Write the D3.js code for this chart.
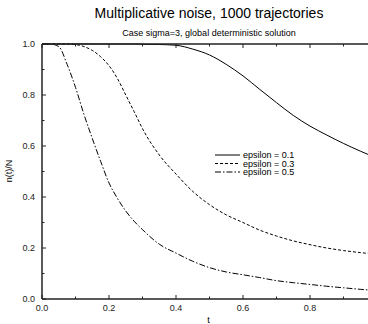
<!DOCTYPE html>
<html><head><meta charset="utf-8">
<script src="https://cdn.jsdelivr.net/npm/d3@7"></script>
<style>body{margin:0;background:#fff;overflow:hidden}svg{display:block;font-family:"Liberation Sans",Arial,sans-serif}</style>
</head><body>
<script>
const tVals = [0,0.025,0.05,0.075,0.1,0.125,0.15,0.175,0.2,0.225,0.25,0.275,0.3,0.35,0.4,0.45,0.5,0.55,0.6,0.65,0.7,0.75,0.8,0.85,0.9,0.95,1.0];
const eps01 = [1,1,1,1,1,1,1,1,1,1,1,1,0.999,0.998,0.995,0.98,0.957,0.92,0.875,0.822,0.77,0.72,0.678,0.643,0.61,0.58,0.552];
const eps03 = [1,1,1,1,0.998,0.99,0.975,0.95,0.915,0.865,0.8,0.735,0.668,0.565,0.49,0.422,0.37,0.33,0.3,0.27,0.247,0.228,0.213,0.2,0.19,0.182,0.175];
const eps05 = [1,1,0.99,0.92,0.83,0.725,0.63,0.54,0.455,0.395,0.345,0.305,0.272,0.215,0.18,0.148,0.123,0.106,0.095,0.084,0.072,0.064,0.057,0.05,0.044,0.038,0.033];
const seriesNames = ["epsilon = 0.1","epsilon = 0.3","epsilon = 0.5"];
const xTicks = [0,0.2,0.4,0.6,0.8];
const yTicks = [0,0.2,0.4,0.6,0.8,1.0];

const W=368,H=324;
const svg=d3.select("body").append("svg").attr("width",W).attr("height",H);
const x=d3.scaleLinear().domain([0,1]).range([42,377]);
const y=d3.scaleLinear().domain([0,1]).range([299,44]);
const minor=d3.range(0,1.0001,0.1);

svg.append("text").attr("x",209).attr("y",18).attr("text-anchor","middle").attr("font-size",14).text("Multiplicative noise, 1000 trajectories");
svg.append("text").attr("x",209).attr("y",36).attr("text-anchor","middle").attr("font-size",9).text("Case sigma=3, global deterministic solution");

const dashes=[null,"3,2","6,2,1.5,2"];
const data=[eps01,eps03,eps05];
const line=d3.line().x((d,i)=>x(tVals[i])).y(d=>y(d)).curve(d3.curveMonotoneX);
const g=svg.append("g");
data.forEach((s,k)=>{
  g.append("path").datum(s).attr("d",line).attr("fill","none").attr("stroke","#000").attr("stroke-width",1)
   .attr("stroke-dasharray",dashes[k]);
});

// axes
const ax=svg.append("g").attr("stroke","#222").attr("stroke-width",1.5);
ax.append("line").attr("x1",x(0)).attr("x2",x(1)).attr("y1",y(0)).attr("y2",y(0));
ax.append("line").attr("x1",x(0)).attr("x2",x(1)).attr("y1",y(1)).attr("y2",y(1));
ax.append("line").attr("x1",x(0)).attr("x2",x(0)).attr("y1",y(0)).attr("y2",y(1));
const tk=svg.append("g").attr("stroke","#222").attr("stroke-width",1);
minor.forEach((v,i)=>{
  const len = i%2===0?4:2.5;
  tk.append("line").attr("x1",x(v)).attr("x2",x(v)).attr("y1",y(0)).attr("y2",y(0)-len);
  tk.append("line").attr("x1",x(v)).attr("x2",x(v)).attr("y1",y(1)).attr("y2",y(1)+len);
  tk.append("line").attr("x1",x(0)).attr("x2",x(0)+len).attr("y1",y(v)).attr("y2",y(v));
});
const fmt=d3.format(".1f");
svg.append("g").selectAll("text").data(xTicks).join("text")
  .attr("x",d=>x(d)).attr("y",311).attr("text-anchor","middle").attr("font-size",9).attr("fill","#222").text(fmt);
svg.append("g").selectAll("text").data(yTicks).join("text")
  .attr("x",35).attr("y",d=>y(d)+3).attr("text-anchor","end").attr("font-size",9).attr("fill","#222").text(fmt);
svg.append("text").attr("x",x(0.5)-1).attr("y",323).attr("text-anchor","middle").attr("font-size",9).text("t");
svg.append("text").attr("transform","translate(12,171) rotate(-90)").attr("text-anchor","middle").attr("font-size",9).text("n(t)/N");

// legend
const lg=svg.append("g");
seriesNames.forEach((n,k)=>{
  const yy=155+k*8.5;
  lg.append("line").attr("x1",215).attr("x2",240).attr("y1",yy).attr("y2",yy).attr("stroke","#000").attr("stroke-width",1).attr("stroke-dasharray",dashes[k]);
  lg.append("text").attr("x",243).attr("y",yy+3).attr("font-size",9).text(n);
});
</script>
</body></html>
